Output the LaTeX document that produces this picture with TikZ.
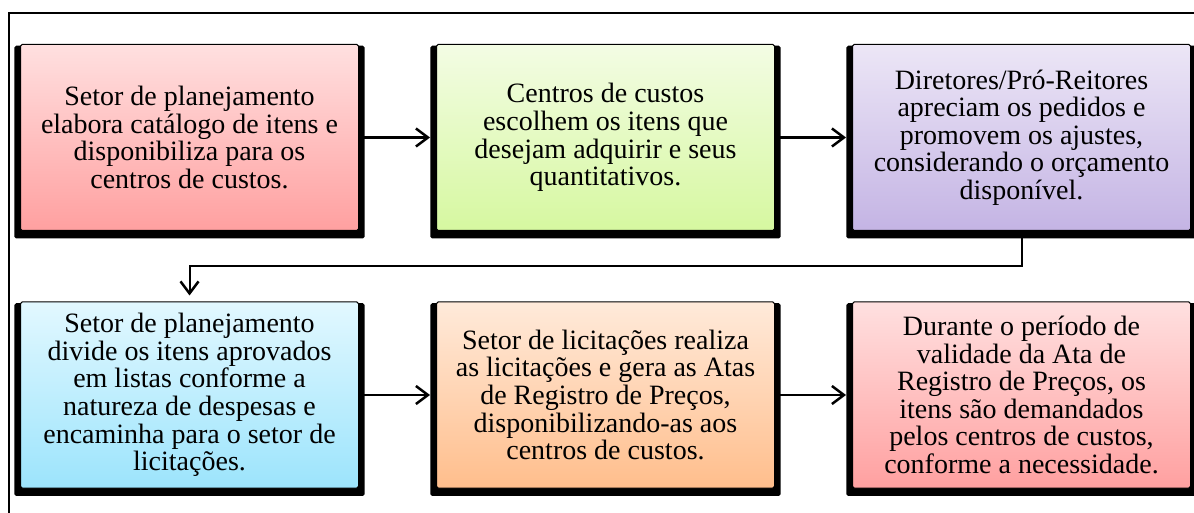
\documentclass[tikz,border=0pt]{standalone}
\usepackage{fontspec}
\setmainfont{Liberation Serif}
\usetikzlibrary{arrows.meta,shadows}

\definecolor{rosaA}{RGB}{255,224,224}
\definecolor{rosaB}{RGB}{255,160,160}
\definecolor{verdeA}{RGB}{243,252,228}
\definecolor{verdeB}{RGB}{214,248,160}
\definecolor{lilasA}{RGB}{236,230,246}
\definecolor{lilasB}{RGB}{196,180,228}
\definecolor{azulA}{RGB}{226,248,255}
\definecolor{azulB}{RGB}{156,228,252}
\definecolor{laranjaA}{RGB}{255,234,218}
\definecolor{laranjaB}{RGB}{255,190,140}

\tikzset{
  etapa/.style={draw=black, line width=0.5pt, rounded corners=0.8pt,
    minimum width=169pt, minimum height=93pt, inner sep=0pt, align=center,
    font=\fontsize{14}{13.8}\selectfont,
    general shadow={fill=black, shadow scale=1.036, shadow yshift=-2.2pt}},
  seta/.style={line width=1.25pt, shorten >=3pt,
    -{Straight Barb[length=6pt,width=9pt,line width=1.25pt]}},
}

\begin{document}
\begin{tikzpicture}[x=0.5pt, y=-0.5pt, node distance=208pt]
  \useasboundingbox (0,0) rectangle (1194,513);
  \clip (0,0) rectangle (1194,513);
  \draw[line width=1pt] (9,13) rectangle (1210,530);

  % primeira linha
  \node[etapa, top color=rosaA, bottom color=rosaB] (cat) at (189.5,137.5)
    {Setor de planejamento\\elabora catálogo de itens e\\disponibiliza para os\\centros de custos.};
  \node[etapa, top color=verdeA, bottom color=verdeB, right of=cat] (cc)
    {Centros de custos\\escolhem os itens que\\desejam adquirir e seus\\quantitativos.};
  \node[etapa, top color=lilasA, bottom color=lilasB, right of=cc] (dir)
    {Diretores/Pró-Reitores\\apreciam os pedidos e\\promovem os ajustes,\\considerando o orçamento\\disponível.};

  % segunda linha
  \node[etapa, top color=azulA, bottom color=azulB] (div) at (189.5,395)
    {Setor de planejamento\\divide os itens aprovados\\em listas conforme a\\natureza de despesas e\\encaminha para o setor de\\licitações.};
  \node[etapa, top color=laranjaA, bottom color=laranjaB, right of=div] (lic)
    {Setor de licitações realiza\\as licitações e gera as Atas\\de Registro de Preços,\\disponibilizando-as aos\\centros de custos.};
  \node[etapa, top color=rosaA, bottom color=rosaB, right of=lic] (ata)
    {Durante o período de\\validade da Ata de\\Registro de Preços, os\\itens são demandados\\pelos centros de custos,\\conforme a necessidade.};

  \draw[seta] (cat) -- (cc);
  \draw[seta] (cc) -- (dir);
  \draw[seta, line width=1pt] (dir.south) -- ++(0,35) -| (div.north);
  \draw[seta] (div) -- (lic);
  \draw[seta] (lic) -- (ata);
\end{tikzpicture}
\end{document}
